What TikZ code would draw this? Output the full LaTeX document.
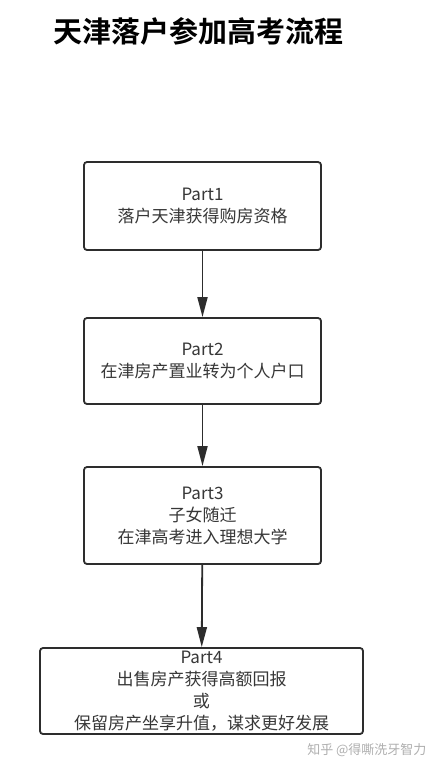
\documentclass[tikz,border=0pt]{standalone}
\usepackage{fontspec}
\newfontfamily\cjk{Noto Sans CJK SC}
\newfontfamily\cjkbold{Noto Sans CJK SC Bold}
\usepackage{xcolor}
\definecolor{boxline}{RGB}{45, 45, 45}
\definecolor{boxtext}{RGB}{55, 55, 55}
\definecolor{markgray}{RGB}{175, 175, 175}
\usetikzlibrary{
  arrows.meta,
  positioning
}

\begin{document}
\begin{tikzpicture}[x=1pt, y=-1pt,
  stagebox/.style={draw=boxline, line width=1.8pt, rounded corners=3pt, fill=white,
    minimum width=237pt, inner sep=0pt, align=center, text=boxtext,
    font=\cjk\fontsize{17}{22}\selectfont},
  flow/.style={draw=boxline, line width=1.8pt, -{Triangle[width=10pt, length=20pt]}}]

  % page frame
  \useasboundingbox[fill=white] (0, 0) rectangle (444, 771);

  % title
  \node[font=\cjkbold\fontsize{29}{31}\selectfont, anchor=west] (title) at (50, 31) {天津落户参加高考流程};

  % the four stages
  \node[stagebox, minimum height=88pt] (part1) at (202.5, 206) {Part1\\落户天津获得购房资格};
  \node[stagebox, minimum height=86pt] (part2) at (202.5, 361) {Part2\\在津房产置业转为个人户口};
  \node[stagebox, minimum height=97pt] (part3) at (202.5, 515.5) {Part3\\子女随迁\\在津高考进入理想大学};
  \node[stagebox, minimum height=86pt, minimum width=323pt] (part4) at (201.5, 691)
    {Part4\\出售房产获得高额回报\\或\\保留房产坐享升值，谋求更好发展};

  % connectors
  \draw[flow] (part1) -- (part2);
  \draw[flow] (part2) -- (part3);
  \draw[flow] (part3) -- (part4);

  % watermark
  \node[font=\cjk\fontsize{13}{15}\selectfont, text=markgray, anchor=east] (mark) at (430, 750) {知乎 @得嘶洗牙智力};

\end{tikzpicture}
\end{document}
